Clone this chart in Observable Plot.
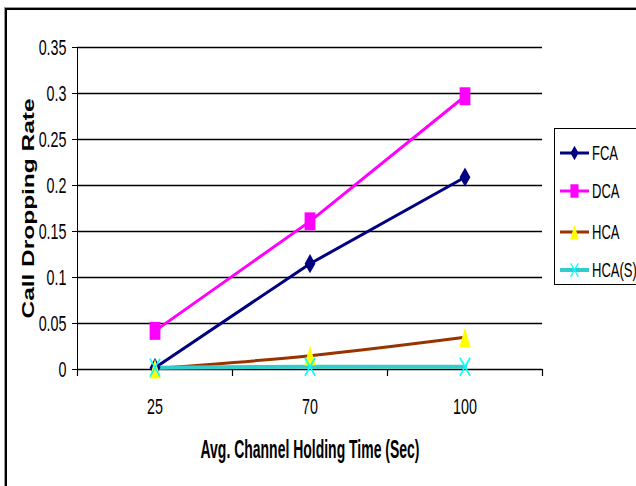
<!DOCTYPE html>
<html>
<head>
<meta charset="utf-8">
<script src="https://cdn.jsdelivr.net/npm/d3@7"></script>
<script src="https://cdn.jsdelivr.net/npm/@observablehq/plot@0.6"></script>
<style>
  html, body { margin: 0; padding: 0; background: #fff; }
  #wrap { position: relative; width: 636px; height: 486px; overflow: hidden; }
  #frame { position: absolute; left: 5px; top: 8px; width: 700px; height: 600px;
           border-left: 2px solid #000; border-top: 2px solid #000; box-sizing: border-box;
           box-shadow: -1px -1px 0 #999; }
  #chart { position: absolute; left: 0; top: 0; }
  #legend { position: absolute; left: 554px; top: 128px; width: 120px; height: 157px;
            border: 1px solid #000; box-sizing: border-box; background: #fff;
            font-family: "Liberation Sans", Arial, sans-serif; font-size: 21px; color: #000; }
  .item { position: absolute; left: 4px; height: 22px; display: flex; align-items: center; }
  .item svg { display: block; }
  .item span { display: inline-block; margin-left: 2px; transform: scaleX(0.62); transform-origin: left center; white-space: nowrap; }
</style>
</head>
<body>
<div id="wrap">
  <div id="frame"></div>
  <div id="chart"></div>
  <div id="legend"></div>
</div>
<script>
// Average channel holding time categories (seconds)
const categories = ["25", "70", "100"];

// Call dropping rate per allocation scheme
const fca  = [0.002, 0.115, 0.209];
const dca  = [0.042, 0.161, 0.297];
const hca  = [0.001, 0.015, 0.035];
const hcaS = [0.002, 0.003, 0.003];

const seriesNames = ["FCA", "DCA", "HCA", "HCA(S)"];

const yTicks = [0, 0.05, 0.1, 0.15, 0.2, 0.25, 0.3, 0.35];
const yTickLabels = ["0", "0.05", "0.1", "0.15", "0.2", "0.25", "0.3", "0.35"];

const xTitle = "Avg. Channel Holding Time (Sec)";
const yTitle = "Call Dropping Rate";

// Tall marker shapes (custom d3 symbol types; size = πr²)
const rad = (size) => Math.sqrt(size / Math.PI);
const tallDiamond = { draw(ctx, size) { const r = rad(size), w = 0.9 * r, h = 1.6 * r;
  ctx.moveTo(0, -h); ctx.lineTo(w, 0); ctx.lineTo(0, h); ctx.lineTo(-w, 0); ctx.closePath(); } };
const tallSquare = { draw(ctx, size) { const r = rad(size), w = 0.9 * r, h = 1.5 * r;
  ctx.moveTo(-w, -h); ctx.lineTo(w, -h); ctx.lineTo(w, h); ctx.lineTo(-w, h); ctx.closePath(); } };
const tallTriangle = { draw(ctx, size) { const r = rad(size), w = 0.95 * r, h = 1.65 * r;
  ctx.moveTo(0, -h); ctx.lineTo(w, h); ctx.lineTo(-w, h); ctx.closePath(); } };
const tallCross = { draw(ctx, size) { const r = rad(size), w = 0.85 * r, h = 1.5 * r;
  ctx.moveTo(-w, -h); ctx.lineTo(w, h); ctx.moveTo(w, -h); ctx.lineTo(-w, h); } };

const styles = [
  { values: fca,  line: "#000080", width: 3, symbol: tallDiamond,  fill: "#000080", stroke: "none",    curve: "linear" },
  { values: dca,  line: "#FF00FF", width: 3, symbol: tallSquare,   fill: "#FF00FF", stroke: "none",    curve: "linear" },
  { values: hca,  line: "#993300", width: 3, symbol: tallTriangle, fill: "#FFFF00", stroke: "none",    curve: "catmull-rom" },
  { values: hcaS, line: "#33CCCC", width: 4, symbol: tallCross,    fill: "none",    stroke: "#00FFFF", curve: "linear" }
];

const rows = (values) => values.map((v, i) => ({ i, v }));

const sans = '"Liberation Sans", Arial, sans-serif';

const marks = [
  Plot.ruleY(yTicks, { stroke: "#000", strokeWidth: 1.4 }),
  // category separator ticks below the x axis
  Plot.ruleX([-0.5, 0.5, 1.5, 2.5], { y1: 0, y2: 0, insetBottom: -7, stroke: "#000", strokeWidth: 1.2 })
];
for (const s of styles) {
  marks.push(Plot.line(rows(s.values), { x: "i", y: "v", stroke: s.line, strokeWidth: s.width, curve: s.curve }));
}
for (const s of styles) {
  marks.push(Plot.dot(rows(s.values), { x: "i", y: "v", r: 6, symbol: s.symbol, fill: s.fill, stroke: s.stroke, strokeWidth: 1.6 }));
}
marks.push(
  Plot.text([xTitle], { text: d => d, frameAnchor: "bottom", lineAnchor: "middle", dy: 80, fontFamily: sans, fontWeight: "bold", fontSize: 26, fill: "#000" }),
  Plot.text([yTitle], { text: d => d, frameAnchor: "left", textAnchor: "middle", lineAnchor: "middle", rotate: -90, dx: -49, fontFamily: sans, fontWeight: "bold", fontSize: 17, fill: "#000" })
);

const chart = Plot.plot({
  width: 636,
  height: 486,
  marginLeft: 77,
  marginRight: 94,
  marginTop: 47,
  marginBottom: 117,
  style: { fontFamily: sans, fontSize: "22px", color: "#000", background: "transparent", overflow: "visible" },
  x: { type: "linear", domain: [-0.5, 2.5], ticks: [0, 1, 2], tickFormat: d => categories[d], tickSize: 0, tickPadding: 29, line: true, label: null },
  y: { domain: [0, 0.35], ticks: yTicks, tickFormat: d => yTickLabels[yTicks.indexOf(d)], tickSize: 5, tickPadding: 6, line: true, label: null },
  marks
});
document.getElementById("chart").appendChild(chart);

// Narrow the lettering horizontally (titles get fixed lengths)
chart.querySelectorAll("text").forEach((t) => {
  const s = t.textContent;
  if (!s) return;
  let len;
  if (s === xTitle) len = 219;
  else if (s === yTitle) len = 220;
  else {
    t.style.fontSize = "22px";
    t.style.fontFamily = sans;
    len = t.getComputedTextLength() * 0.65;
  }
  t.setAttribute("textLength", len);
  t.setAttribute("lengthAdjust", "spacingAndGlyphs");
});

// Legend
const legend = document.getElementById("legend");
const legendTop = [13, 51, 92, 130];
const svgNS = "http://www.w3.org/2000/svg";
styles.forEach((s, k) => {
  const item = document.createElement("div");
  item.className = "item";
  item.style.top = legendTop[k] + "px";
  const svg = document.createElementNS(svgNS, "svg");
  svg.setAttribute("width", 31);
  svg.setAttribute("height", 22);
  const ln = document.createElementNS(svgNS, "line");
  ln.setAttribute("x1", 1); ln.setAttribute("x2", 30);
  ln.setAttribute("y1", 11); ln.setAttribute("y2", 11);
  ln.setAttribute("stroke", s.line); ln.setAttribute("stroke-width", s.width);
  svg.appendChild(ln);
  const p = document.createElementNS(svgNS, "path");
  p.setAttribute("d", d3.symbol(s.symbol, 4.5 * 4.5 * Math.PI)());
  p.setAttribute("transform", "translate(15.5,11)");
  p.setAttribute("fill", s.fill);
  p.setAttribute("stroke", s.stroke);
  p.setAttribute("stroke-width", 1.4);
  svg.appendChild(p);
  const label = document.createElement("span");
  label.textContent = seriesNames[k];
  item.appendChild(svg);
  item.appendChild(label);
  legend.appendChild(item);
});
</script>
</body>
</html>
